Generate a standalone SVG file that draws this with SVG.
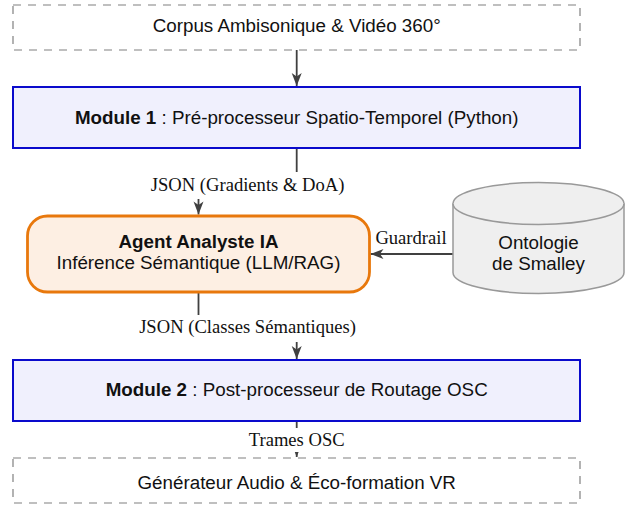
<svg xmlns="http://www.w3.org/2000/svg" width="633" height="506" viewBox="0 0 633 506">
  <style>
    .sans { font-family: "Liberation Sans", Arial, sans-serif; font-size: 18.8px; fill: #111; text-anchor: middle; }
    .serif { font-family: "Liberation Serif", "Times New Roman", serif; font-size: 18.6px; fill: #111; text-anchor: middle; }
    .bold { font-weight: bold; }
    .io { fill: #ffffff; stroke: #808080; stroke-width: 1.2; stroke-dasharray: 8 7; }
    .module { fill: #f0f0fd; stroke: #0a0acc; stroke-width: 2; }
    .agent { fill: #fdefe3; stroke: #e8780c; stroke-width: 2.8; }
    .db { fill: #efefef; stroke: #999999; stroke-width: 1.5; }
    .edge { fill: none; stroke: #404040; stroke-width: 1.8; }
    .label-bg { fill: #ffffff; }
  </style>
  <defs>
    <marker id="stealth" markerUnits="userSpaceOnUse" markerWidth="14" markerHeight="11" refX="13" refY="5" orient="auto" overflow="visible">
      <path d="M0,0 L13,5 L0,10 L3.5,5 Z" fill="#404040"/>
    </marker>
  </defs>

  <!-- connectors (drawn first so label backgrounds mask the elbows) -->
  <g id="connectors">
    <path class="edge" d="M296.7,50 V86" marker-end="url(#stealth)"/>
    <path class="edge" d="M296.7,148 V185.5 H198.5 V214.5" marker-end="url(#stealth)"/>
    <path class="edge" d="M453,254 H370.5" marker-end="url(#stealth)"/>
    <path class="edge" d="M198.5,293 V328.5 H296.7 V359" marker-end="url(#stealth)"/>
    <path class="edge" d="M296.7,422 V457" marker-end="url(#stealth)"/>

    <rect class="label-bg" x="146" y="172" width="203" height="27"/>
    <text class="serif" x="247.6" y="191">JSON (Gradients &amp; DoA)</text>

    <text class="serif" x="411" y="243.5">Guardrail</text>

    <rect class="label-bg" x="134" y="315" width="227" height="27"/>
    <text class="serif" x="247.6" y="333">JSON (Classes Sémantiques)</text>

    <rect class="label-bg" x="243" y="428" width="108" height="24"/>
    <text class="serif" x="296.7" y="446">Trames OSC</text>
  </g>

  <g id="corpus">
    <rect class="io" x="13" y="5" width="567" height="45"/>
    <text class="sans" x="296.7" y="32">Corpus Ambisonique &amp; Vidéo 360°</text>
  </g>

  <g id="module1">
    <rect class="module" x="13" y="87" width="567" height="61"/>
    <text class="sans" x="296.7" y="123.5"><tspan class="bold">Module 1</tspan> : Pré-processeur Spatio-Temporel (Python)</text>
  </g>

  <g id="agent">
    <rect class="agent" x="27.5" y="216" width="342" height="76" rx="20" ry="20"/>
    <text class="sans bold" x="198.5" y="248">Agent Analyste IA</text>
    <text class="sans" x="198.5" y="268.5">Inférence Sémantique (LLM/RAG)</text>
  </g>

  <g id="ontology">
    <path class="db" d="M453,203.5 A85.5,21 0 0 1 624,203.5 V272.5 A85.5,21 0 0 1 453,272.5 Z"/>
    <path class="db" fill="none" d="M453,203.5 A85.5,21 0 0 0 624,203.5"/>
    <text class="sans" x="538.5" y="249">Ontologie</text>
    <text class="sans" x="538.5" y="270">de Smalley</text>
  </g>

  <g id="module2">
    <rect class="module" x="13" y="360" width="567" height="61"/>
    <text class="sans" x="296.7" y="396"><tspan class="bold">Module 2</tspan> : Post-processeur de Routage OSC</text>
  </g>

  <g id="output">
    <rect class="io" x="13" y="458" width="567" height="45"/>
    <text class="sans" x="296.7" y="489">Générateur Audio &amp; Éco-formation VR</text>
  </g>
</svg>
